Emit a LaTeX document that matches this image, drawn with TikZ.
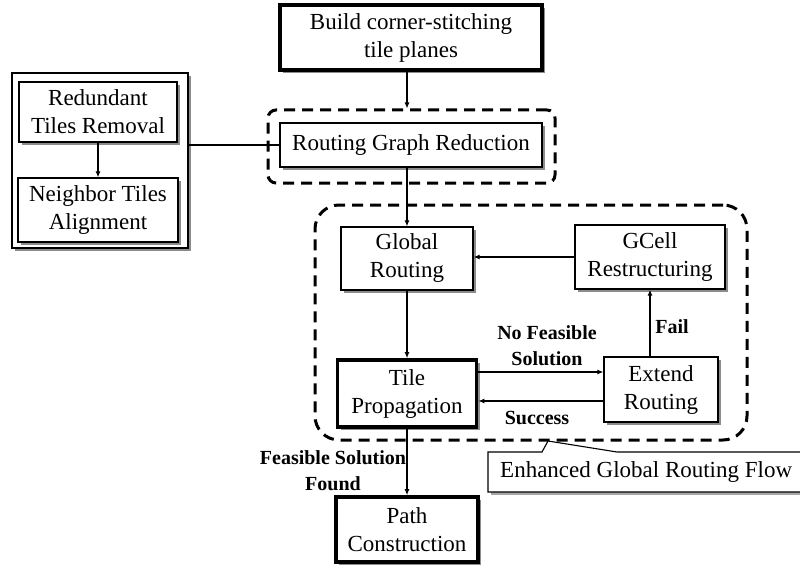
\documentclass[tikz,border=0pt]{standalone}
\usepackage{fontspec}
\setmainfont{Liberation Serif}
\usetikzlibrary{arrows.meta,shadows}
\begin{document}
\begin{tikzpicture}[x=1pt,y=-1pt,
  shad/.style={drop shadow={shadow xshift=3pt,shadow yshift=-3pt,fill=black!45,opacity=1}},
  box/.style={draw,line width=1.3pt,fill=white,shad,align=center,inner sep=0pt,
    font=\fontsize{23}{28}\selectfont},
  thickbox/.style={box,line width=3.6pt},
  group/.style={draw,line width=3pt,dash pattern=on 11pt off 7pt},
  arr/.style={line width=1.1pt,-{Latex[length=6pt,width=5pt]}},
  lbl/.style={font=\bfseries\fontsize{20}{26}\selectfont,align=center,inner sep=0pt}]
\useasboundingbox (0,0) rectangle (800,567);
% containers
\node[group,rounded corners=8pt,minimum width=287pt,minimum height=73pt] (rgrc) at (411.5,146.5) {};
\node[group,rounded corners=24pt,minimum width=432pt,minimum height=235pt] (egr) at (531,322.5) {};
% left group
\node[box,minimum width=176pt,minimum height=175pt] (outer) at (100,160.5) {};
\node[box,minimum width=158pt,minimum height=60pt] (red) at (98,112) {Redundant\\Tiles Removal};
\node[box,minimum width=160pt,minimum height=64pt] (nei) at (98,210) {Neighbor Tiles\\Alignment};
% main
\node[thickbox,minimum width=262pt,minimum height=65pt] (build) at (411,37.5) {Build corner-stitching\\tile planes};
\node[box,minimum width=262pt,minimum height=44pt] (rgr) at (411,145) {Routing Graph Reduction};
\node[box,minimum width=132pt,minimum height=63pt] (gr) at (407,258.5) {Global\\Routing};
\node[box,minimum width=150pt,minimum height=64pt] (gc) at (650,257) {GCell\\Restructuring};
\node[thickbox,minimum width=139pt,minimum height=67pt] (tile) at (407,393.5) {Tile\\Propagation};
\node[box,minimum width=114pt,minimum height=65pt] (ext) at (661,389.5) {Extend\\Routing};
\node[thickbox,minimum width=142pt,minimum height=65pt] (path) at (407,529.5) {Path\\Construction};
% connectors
\draw[arr] (red.south) -- (nei.north);
\draw[line width=1.1pt] (rgr.west -| outer.east) -- (rgr.west);
\draw[arr] (build.south -| gr.north) -- (rgrc.north -| gr.north);
\draw[arr] (rgr.south -| gr.north) -- (gr.north);
\draw[arr] (gc.west) -- (gc.west -| gr.east);
\draw[arr] (gr.south) -- (tile.north);
\draw[arr] ([yshift=21.5pt]tile.east) -- ([yshift=21.5pt]tile.east -| ext.west);
\draw[arr] ([yshift=-11.5pt]ext.west) -- ([yshift=-11.5pt]ext.west -| tile.east);
\draw[arr] (ext.north -| gc.south) -- (gc.south);
\draw[arr] (tile.south) -- (path.north);
% labels
\node[lbl] (nfs) at (547,346) {No Feasible\\Solution};
\node[lbl] (succ) at (537,418) {Success};
\node[lbl] (fail) at (672,327) {Fail};
\node[lbl] (fsf) at (333,471) {Feasible Solution\\Found};
% callout
\fill[black!35] (491,495) rectangle (805,455);
\draw[line width=1.1pt,fill=white] (805,492) -- (488,492) -- (488,452) -- (542,452) -- (548,441) -- (617,452) -- (805,452);
\node[anchor=west,inner sep=0pt,font=\fontsize{23}{28}\selectfont] (cap) at (500,472) {Enhanced Global Routing Flow};
\end{tikzpicture}
\end{document}
